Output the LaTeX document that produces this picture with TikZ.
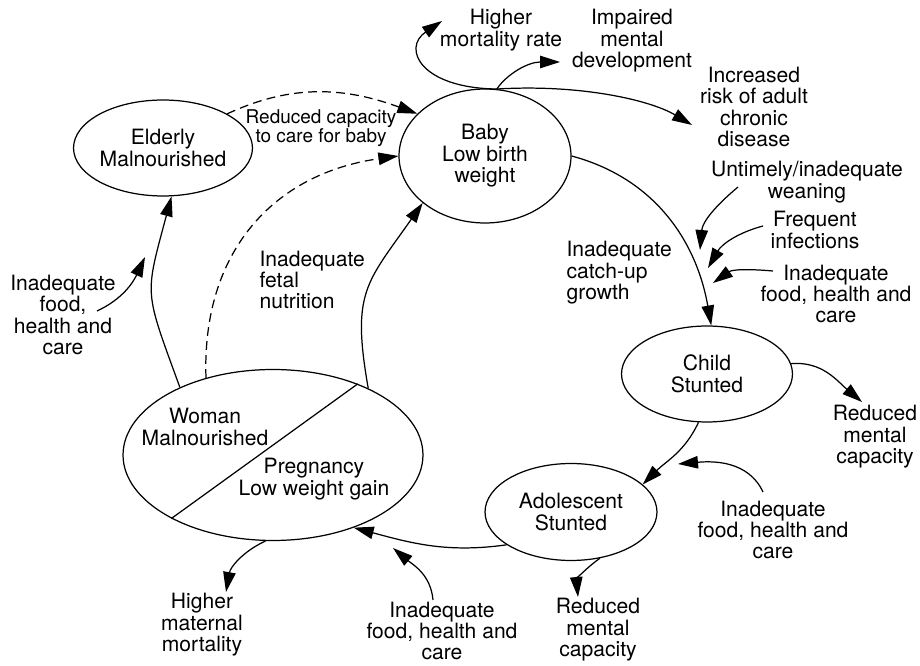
\documentclass[tikz,border=0pt]{standalone}
\usepackage{fontspec}
\setmainfont{TeX Gyre Heros}
\usetikzlibrary{arrows.meta,shapes.geometric}

\tikzset{
  stage/.style={draw, ellipse, inner sep=0pt, align=center},
  note/.style={align=center, inner sep=0pt},
  flow/.style={-{Triangle[length=4mm,width=2.5mm]}},
  weak/.style={flow, dash pattern=on 5pt off 3pt}
}

\begin{document}
\begin{tikzpicture}[x=0.02cm, y=0.02cm, line width=0.7pt, font=\fontsize{12}{12.2}\selectfont]
\useasboundingbox (0,0) rectangle (920,666);

\node[stage, minimum width=3.4cm, minimum height=1.92cm] (elderly) at (163,518) {Elderly\\Malnourished};
\node[stage, minimum width=3.44cm, minimum height=2.68cm] (baby) at (485,510) {Baby\\Low birth\\weight};
\node[stage, minimum width=3.42cm, minimum height=1.92cm] (child) at (707,292) {Child\\Stunted};
\node[stage, minimum width=3.44cm, minimum height=1.94cm] (adol) at (571,154) {Adolescent\\Stunted};
\node[stage, minimum width=6cm, minimum height=3.42cm] (woman) at (273,211) {};
\draw (woman.40) -- (woman.212);
\node[note] (womanA) at (205,239) {Woman\\Malnourished};
\node[note] (womanB) at (314,187) {Pregnancy\\Low weight gain};

\node[note] (mort) at (501,636) {Higher\\mortality rate};
\node[note] (impair) at (632,625) {Impaired\\mental\\development};
\node[note] (risk) at (754,559) {Increased\\risk of adult\\chronic\\disease};
\node[note] (wean) at (807,484) {Untimely/inadequate\\weaning};
\node[note] (infect) at (815,436) {Frequent\\infections};
\node[note] (foodC) at (836,372) {Inadequate\\food, health and\\care};
\node[note, align=left, anchor=west] (catch) at (566,393) {Inadequate\\catch-up\\growth};
\node[note, font=\fontsize{10.8}{11}\selectfont] (capacity) at (321,538) {Reduced capacity\\to care for baby};
\node[note, align=left, anchor=west] (fetal) at (259,386) {Inadequate\\fetal\\nutrition};
\node[note] (foodE) at (63,351) {Inadequate\\food,\\health and\\care};
\node[note] (redC) at (875,229) {Reduced\\mental\\capacity};
\node[note] (foodA) at (773,136) {Inadequate\\food, health and\\care};
\node[note] (redA) at (598,36) {Reduced\\mental\\capacity};
\node[note] (maternal) at (202,41) {Higher\\maternal\\mortality};
\node[note] (foodW) at (442,35) {Inadequate\\food, health and\\care};

\coordinate (mortTip) at (442,645);
\coordinate (impairTip) at (560,604);
\coordinate (riskTip) at (692,541);
\coordinate (weanOut) at (738,479);
\coordinate (weanTip) at (700,416);
\coordinate (infectOut) at (763,440);
\coordinate (infectTip) at (708,398);
\coordinate (foodCOut) at (773,395);
\coordinate (foodCTip) at (713,383);
\coordinate (redCTip) at (862,264);
\coordinate (foodAOut) at (763,174);
\coordinate (foodATip) at (678,202);
\coordinate (redATip) at (578,69);
\coordinate (maternalTip) at (226,74);
\coordinate (foodWOut) at (433,66);
\coordinate (foodWTip) at (393,118);
\coordinate (foodEOut) at (97,355);
\coordinate (foodETip) at (145,409);

\draw[weak] (elderly.28) to[out=25, in=160] (baby.148);
\draw[weak] (woman.131) to[out=92, in=188, looseness=1.1] (baby.west);
\draw[flow] (woman.144) to[out=110, in=-105, looseness=1.4] (elderly.-80);
\draw[flow] (woman.35) to[out=100, in=-125, looseness=1.3] (baby.217);
\draw[flow] (baby.east) to[out=-15, in=100] (child.85);
\draw[flow] (child.-100) to[out=-115, in=45] (adol.21);
\draw[flow] (adol.207) to[out=188, in=-15] (woman.-42);
\draw[flow] (baby.80) .. controls (420,578) and (402,618) .. (mortTip);
\draw[flow] (baby.80) .. controls (507,592) and (528,604) .. (impairTip);
\draw[flow] (baby.80) .. controls (580,582) and (650,566) .. (riskTip);
\draw[flow] (weanOut) to[out=-140, in=85] (weanTip);
\draw[flow] (infectOut) to[out=-165, in=60] (infectTip);
\draw[flow] (foodCOut) to[out=175, in=35] (foodCTip);
\draw[flow] (child.7) to[out=5, in=140] (redCTip);
\draw[flow] (foodAOut) to[out=115, in=5] (foodATip);
\draw[flow] (adol.-58) to[out=-145, in=95] (redATip);
\draw[flow] (woman.-95) to[out=-155, in=80] (maternalTip);
\draw[flow] (foodWOut) to[out=95, in=-40] (foodWTip);
\draw[flow] (foodEOut) to[out=25, in=-115] (foodETip);
\end{tikzpicture}
\end{document}
